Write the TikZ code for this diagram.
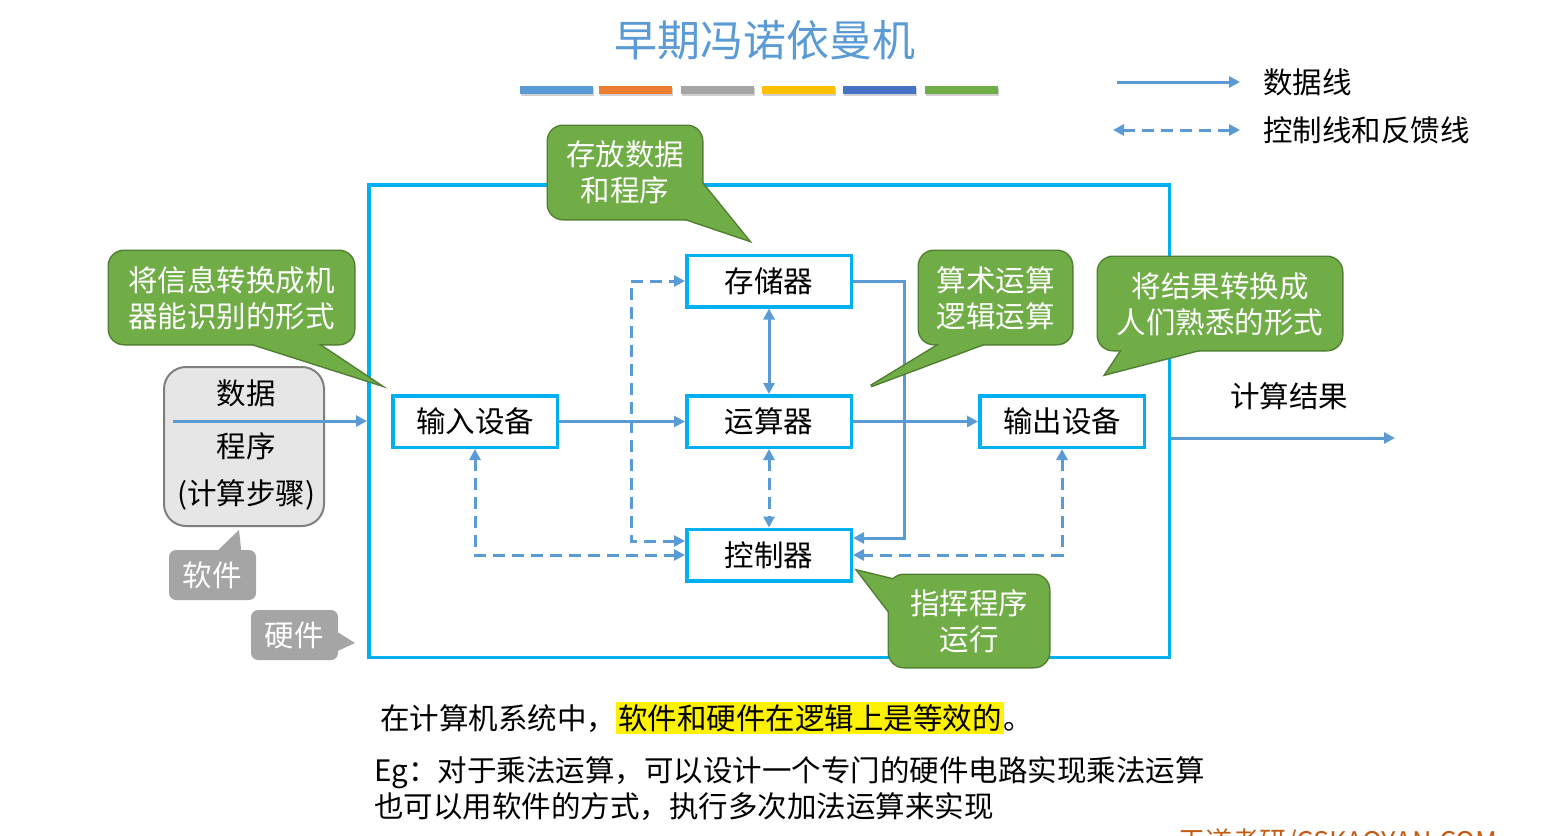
\documentclass[tikz,border=0pt]{standalone}
\usepackage{fontspec}
\setmainfont{Noto Sans CJK SC}
\usetikzlibrary{arrows.meta}
\definecolor{frameC}{HTML}{00B0F0}
\definecolor{lineC}{HTML}{5B9BD5}
\definecolor{greenF}{HTML}{70AD47}
\definecolor{greenD}{HTML}{507E32}
\definecolor{grayF}{HTML}{A5A5A5}
\definecolor{boxF}{HTML}{E7E6E6}
\definecolor{boxD}{HTML}{7F7F7F}
\definecolor{wmC}{HTML}{C55A11}
\definecolor{barA}{HTML}{5B9BD5}
\definecolor{barB}{HTML}{ED7D31}
\definecolor{barC}{HTML}{A5A5A5}
\definecolor{barD}{HTML}{FFC000}
\definecolor{barE}{HTML}{4472C4}
\definecolor{barF}{HTML}{70AD47}
\newcommand\gcallout[2]{%
  \path[draw=greenD, line width=3pt, rounded corners=15pt] #1;
  \path[draw=greenD, line width=3pt, line join=miter] #2;
  \path[fill=greenF, rounded corners=15pt] #1;
  \path[fill=greenF] #2;}
\newcommand\ycallout[2]{%
  \path[fill=grayF, rounded corners=7pt] #1;
  \path[fill=grayF] #2;}
\begin{document}
\begin{tikzpicture}[x=1pt,y=-1pt,
  txt/.style={font=\fontsize{29.5}{36}\selectfont, inner sep=0pt},
  unit/.style={draw=frameC, line width=3.5pt, fill=white, minimum width=164.5pt, minimum height=51.5pt, txt},
  data/.style={draw=lineC, line width=3pt, -{Triangle[length=11pt,width=11pt]}},
  datab/.style={data, {Triangle[length=11pt,width=11pt]}-{Triangle[length=11pt,width=11pt]}},
  ctrl/.style={draw=lineC, line width=3pt, dash pattern=on 12pt off 7pt, {Triangle[length=11pt,width=11pt]}-{Triangle[length=11pt,width=11pt]}},
  ctext/.style={txt, text=white, align=center},
]
\useasboundingbox (0,0) rectangle (1557,835);
\clip (0,0) rectangle (1557,835);
\fill[white] (0,0) rectangle (1557,835);

% title and bars
\node[font=\fontsize{43}{50}\selectfont, text=lineC, inner sep=0pt] (title) at (765,40) {早期冯诺依曼机};
\foreach \xa/\xb/\c in {520/593/barA, 599/672/barB, 681/754/barC, 762/835/barD, 843/916/barE, 925/998/barF}{
  \fill[black!18] (\xa+1,88) rectangle (\xb+1,96);
  \fill[\c] (\xa,86) rectangle (\xb,94);
}

% legend
\coordinate (la1) at (1117,82); \coordinate (la2) at (1240,82);
\draw[data] (la1) -- (la2);
\node[txt, anchor=west] (lt1) at (1263,82) {数据线};
\coordinate (lb1) at (1113,130); \coordinate (lb2) at (1240,130);
\draw[ctrl] (lb1) -- (lb2);
\node[txt, anchor=west] (lt2) at (1263,130) {控制线和反馈线};

% frame
\node[draw=frameC, line width=3.5pt, minimum width=800.5pt, minimum height=472.5pt, inner sep=0pt] (frame) at (769,421) {};

% software box
\node[draw=boxD, fill=boxF, line width=2pt, rounded corners=22pt, minimum width=160pt, minimum height=159pt] (sw) at (244,446.5) {};
\node[txt] (sw1) at (246,393) {数据};
\node[txt] (sw2) at (246,446) {程序};
\node[txt] (sw3) at (246,495) {(计算步骤)};

% units
\node[unit] (in) at (475,421.5) {输入设备};
\node[unit] (mem) at (769,281) {存储器};
\node[unit] (alu) at (769,421.5) {运算器};
\node[unit] (out) at (1062,421.5) {输出设备};
\node[unit] (ctl) at (769,555) {控制器};

% helper coordinates
\coordinate (din) at (173,421);
\coordinate (x904) at (904,0);
\coordinate (y538) at (0,538);
\coordinate (x631) at (631,0);
\coordinate (y541) at (0,541);
\coordinate (y438) at (0,438);
\coordinate (resEnd) at (1395,438);

% data lines
\draw[data] (din) -- (din -| frame.west);
\draw[data] (in.east) -- (alu.west);
\draw[data] (alu.east) -- (out.west);
\draw[data] (mem.east) -| (x904 |- y538) -- (ctl.east |- y538);
\draw[datab] (mem.south) -- (alu.north);
\draw[data] (frame.east |- y438) -- (resEnd);
\node[txt] (res) at (1289,396) {计算结果};

% control lines
\draw[ctrl] (alu.south) -- (ctl.north);
\draw[ctrl] (ctl.west |- y541) -| (x631 |- mem.west) -- (mem.west);
\draw[ctrl] (in.south) |- (ctl.west);
\draw[ctrl] (out.south) |- (ctl.east);

% green callouts
\gcallout{(548,126) rectangle (702,219)}{(748,240) -- (693,172) -- (674,215) -- cycle}
\node[ctext] (c1) at (625,172) {存放数据\\和程序};
\gcallout{(109,251) rectangle (354,344)}{(378,384) -- (309,338) -- (240,340) -- cycle}
\node[ctext] (c2) at (231.5,298) {将信息转换成机\\器能识别的形式};
\gcallout{(919,251) rectangle (1072,344)}{(871,386) -- (950,338) -- (994,340) -- cycle}
\node[ctext] (c3) at (995.5,298) {算术运算\\逻辑运算};
\gcallout{(1098,257) rectangle (1342,350)}{(1106,374) -- (1126,344) -- (1214,346) -- cycle}
\node[ctext] (c4) at (1220,304) {将结果转换成\\人们熟悉的形式};
\gcallout{(889,575) rectangle (1049,667)}{(858,571) -- (897,622) -- (915,585) -- cycle}
\node[ctext] (c5) at (969,621.5) {指挥程序\\运行};

% gray callouts
\ycallout{(169,550) rectangle (256,600)}{(239,530) -- (212,556) -- (242,558) -- cycle}
\node[ctext] (g1) at (212,575) {软件};
\ycallout{(251,610) rectangle (338,660)}{(355,643) -- (331,628) -- (331,654) -- cycle}
\node[ctext] (g2) at (294,635) {硬件};

% bottom text
{\setlength{\fboxsep}{2pt}
\node[txt, anchor=west] (b1) at (380,718) {在计算机系统中，\colorbox{yellow}{软件和硬件在逻辑上是等效的}。};}
\node[txt, anchor=west, align=left] (b2) at (374,789) {Eg：对于乘法运算，可以设计一个专门的硬件电路实现乘法运算\\也可以用软件的方式，执行多次加法运算来实现};
\node[font=\fontsize{27}{30}\selectfont, text=wmC, anchor=base west, inner sep=0pt] (wm) at (1178,851) {王道考研/CSKAOYAN.COM};
\end{tikzpicture}
\end{document}
